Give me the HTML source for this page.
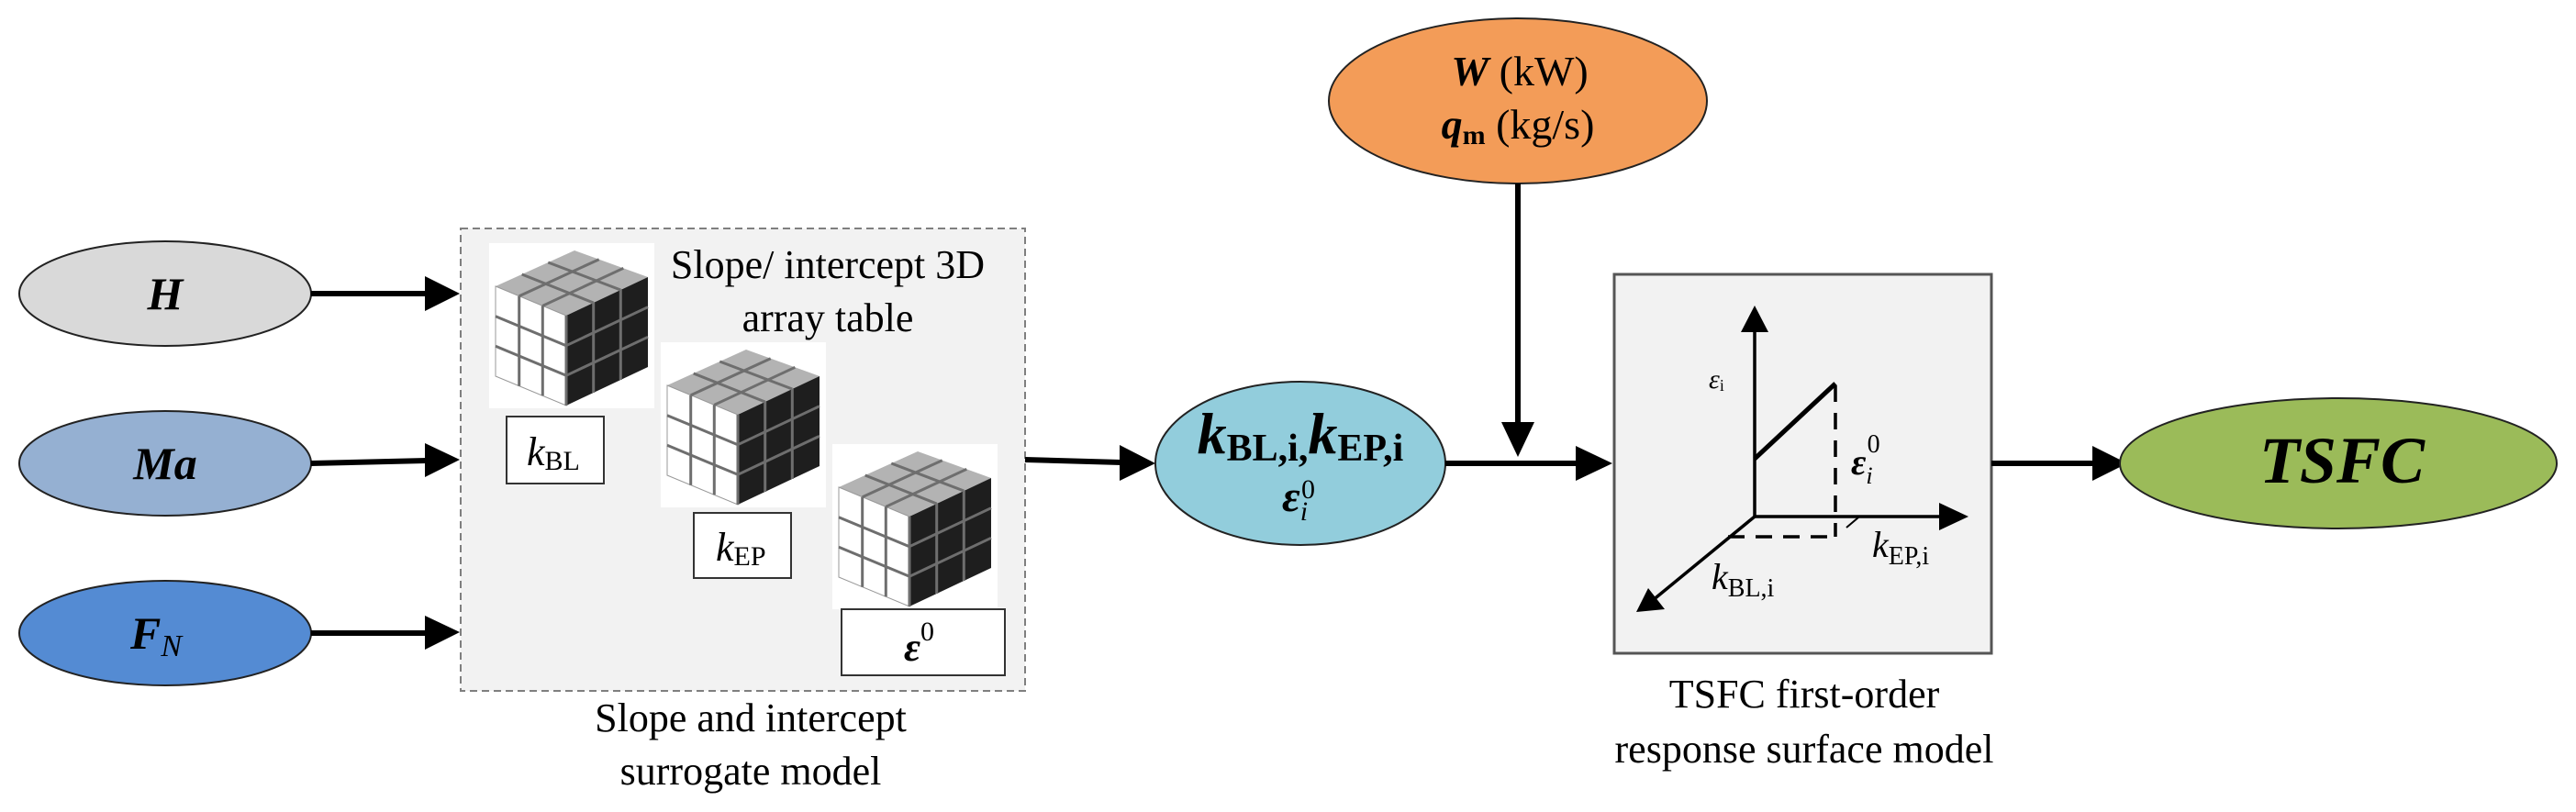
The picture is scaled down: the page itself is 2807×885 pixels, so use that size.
<!DOCTYPE html>
<html><head><meta charset="utf-8"><style>
html,body{margin:0;padding:0;background:#fff}
svg{display:block}
text{font-family:"Liberation Serif","DejaVu Serif",serif;fill:#000}
</style></head><body>
<svg width="2807" height="885" viewBox="0 0 2807 885" xmlns="http://www.w3.org/2000/svg">
<defs>
<g id="cube">
<rect x="0" y="0" width="180" height="180" fill="#fff"/>
<polygon points="93,8 7,47 84,79 173,37" fill="#b3b3b3"/>
<polygon points="7,47 84,79 84,177 7,145" fill="#fff" stroke="#999" stroke-width="1"/>
<polygon points="84,79 173,37 173,135 84,177" fill="#1e1e1e"/>
<g stroke="#6e6e6e" stroke-width="3" fill="none">
<line x1="64.3" y1="21" x2="143.3" y2="51"/><line x1="35.7" y1="34" x2="113.7" y2="65"/>
<line x1="119.7" y1="17.7" x2="32.7" y2="57.7"/><line x1="146.3" y1="27.3" x2="58.3" y2="68.3"/>
<line x1="32.7" y1="57.7" x2="32.7" y2="155.7"/><line x1="58.3" y1="68.3" x2="58.3" y2="166.3"/>
<line x1="7" y1="79.7" x2="84" y2="111.7"/><line x1="7" y1="112.3" x2="84" y2="144.3"/>
<line x1="84" y1="79" x2="84" y2="177"/>
<line x1="113.7" y1="65" x2="113.7" y2="163"/><line x1="143.3" y1="51" x2="143.3" y2="149"/>
<line x1="84" y1="111.7" x2="173" y2="69.7"/><line x1="84" y1="144.3" x2="173" y2="102.3"/>
</g>
</g>
</defs>

<!-- left input ellipses -->
<ellipse cx="180" cy="320" rx="159" ry="57" fill="#d9d9d9" stroke="#222" stroke-width="2"/>
<text x="180" y="337" font-size="50" font-weight="bold" font-style="italic" text-anchor="middle">H</text>
<ellipse cx="180" cy="505" rx="159" ry="57" fill="#95b0d2" stroke="#222" stroke-width="2"/>
<text x="180" y="522" font-size="50" font-weight="bold" font-style="italic" text-anchor="middle">Ma</text>
<ellipse cx="180" cy="690" rx="159" ry="57" fill="#548bd3" stroke="#222" stroke-width="2"/>
<text x="170" y="707" font-size="50" font-weight="bold" font-style="italic" text-anchor="middle">F<tspan font-size="34" font-weight="normal" dy="8">N</tspan></text>

<!-- arrows to box -->
<g stroke="#000" stroke-width="6">
<line x1="339" y1="320" x2="465" y2="320"/>
<line x1="339" y1="505" x2="465" y2="502"/>
<line x1="339" y1="690" x2="465" y2="690"/>
</g>
<polygon points="463,301 501,320 463,339" fill="#000"/>
<polygon points="463,483 501,501 463,520" fill="#000"/>
<polygon points="463,671 501,689 463,708" fill="#000"/>

<!-- dashed surrogate box -->
<rect x="502" y="249" width="615" height="504" fill="#f2f2f2" stroke="#7f7f7f" stroke-width="2" stroke-dasharray="8,5"/>
<use href="#cube" transform="translate(533,265)"/>
<use href="#cube" transform="translate(720,373)"/>
<use href="#cube" transform="translate(907,484)"/>
<text x="902" y="303" font-size="44" text-anchor="middle">Slope/ intercept 3D</text>
<text x="902" y="361" font-size="44" text-anchor="middle">array table</text>
<rect x="552" y="454" width="106" height="73" fill="#fff" stroke="#333" stroke-width="2"/>
<text x="574" y="507" font-size="44" font-style="italic">k<tspan font-style="normal" font-size="30" dy="5">BL</tspan></text>
<rect x="756" y="559" width="106" height="71" fill="#fff" stroke="#333" stroke-width="2"/>
<text x="780" y="611" font-size="44" font-style="italic">k<tspan font-style="normal" font-size="30" dy="5">EP</tspan></text>
<rect x="917" y="664" width="178" height="72" fill="#fff" stroke="#333" stroke-width="2"/>
<text x="985" y="720" font-size="44" font-style="italic" font-weight="bold">ε<tspan font-style="normal" font-weight="normal" font-size="30" dy="-22">0</tspan></text>
<text x="818" y="797" font-size="44" text-anchor="middle">Slope and intercept</text>
<text x="818" y="855" font-size="44" text-anchor="middle">surrogate model</text>

<!-- box to blue ellipse -->
<line x1="1117" y1="501" x2="1222" y2="504" stroke="#000" stroke-width="6"/>
<polygon points="1220,485 1259,505 1220,524" fill="#000"/>

<!-- blue ellipse -->
<ellipse cx="1417" cy="505" rx="158" ry="89" fill="#92cddc" stroke="#222" stroke-width="2"/>
<text x="1417" y="494" font-size="64" font-weight="bold" font-style="italic" text-anchor="middle">k<tspan font-style="normal" font-size="42" dy="8">BL,i,</tspan><tspan dy="-8">k</tspan><tspan font-style="normal" font-size="42" dy="8">EP,i</tspan></text>
<text x="1397" y="557" font-size="48" font-weight="bold" font-style="italic">ε<tspan font-weight="normal" font-size="30" dy="10">i</tspan><tspan font-style="normal" font-weight="normal" font-size="30" dx="-7" dy="-24">0</tspan></text>

<!-- orange ellipse -->
<ellipse cx="1654" cy="110" rx="206" ry="90" fill="#f39c58" stroke="#222" stroke-width="2"/>
<text x="1656" y="93" font-size="46" text-anchor="middle"><tspan font-weight="bold" font-style="italic">W</tspan> (kW)</text>
<text x="1654" y="151" font-size="46" text-anchor="middle"><tspan font-weight="bold" font-style="italic">q</tspan><tspan font-weight="bold" font-size="30" dy="6">m</tspan><tspan dy="-6"> (kg/s)</tspan></text>
<line x1="1654" y1="200" x2="1654" y2="462" stroke="#000" stroke-width="6"/>
<polygon points="1636,460 1672,460 1654,498" fill="#000"/>

<!-- blue to gray box -->
<line x1="1575" y1="505" x2="1720" y2="505" stroke="#000" stroke-width="6"/>
<polygon points="1717,486 1757,505 1717,524" fill="#000"/>

<!-- gray box -->
<rect x="1759" y="299" width="411" height="413" fill="#f2f2f2" stroke="#555" stroke-width="3"/>
<g stroke="#000" stroke-width="3.5" fill="none">
<line x1="1912" y1="563" x2="1912" y2="360"/>
<line x1="1912" y1="563" x2="2115" y2="563"/>
<line x1="1912" y1="563" x2="1800" y2="655"/>
</g>
<line x1="1912" y1="500" x2="2000" y2="418" stroke="#000" stroke-width="5"/>
<g stroke="#000" stroke-width="3.5" stroke-dasharray="18,12" fill="none">
<line x1="2000" y1="420" x2="2000" y2="585"/>
<line x1="1883" y1="585" x2="2000" y2="585"/>
</g>
<line x1="2012" y1="575" x2="2025" y2="564" stroke="#000" stroke-width="2"/>
<polygon points="1897,362 1927,362 1912,333" fill="#000"/>
<polygon points="2113,548 2113,578 2145,563" fill="#000"/>
<polygon points="1783,667 1796,641 1814,664" fill="#000"/>
<text x="1862" y="423" font-size="30" font-style="italic">ε<tspan font-style="normal" font-size="18" dy="3">i</tspan></text>
<text x="2017" y="517" font-size="40" font-weight="bold" font-style="italic">ε<tspan font-weight="normal" font-size="26" dy="10">i</tspan><tspan font-style="normal" font-weight="normal" font-size="28" dx="-6" dy="-34">0</tspan></text>
<text x="2040" y="607" font-size="40" font-style="italic">k<tspan font-style="normal" font-size="28" dy="8">EP,i</tspan></text>
<text x="1865" y="642" font-size="40" font-style="italic">k<tspan font-style="normal" font-size="28" dy="8">BL,i</tspan></text>
<text x="1966" y="771" font-size="44" text-anchor="middle">TSFC first-order</text>
<text x="1966" y="831" font-size="44" text-anchor="middle">response surface model</text>

<!-- to TSFC -->
<line x1="2170" y1="505" x2="2282" y2="505" stroke="#000" stroke-width="6"/>
<polygon points="2280,486 2318,505 2280,524" fill="#000"/>
<ellipse cx="2548" cy="505" rx="238" ry="71" fill="#9bbb59" stroke="#222" stroke-width="2"/>
<text x="2552" y="526" font-size="72" font-weight="bold" font-style="italic" text-anchor="middle">TSFC</text>
</svg>
</body></html>
